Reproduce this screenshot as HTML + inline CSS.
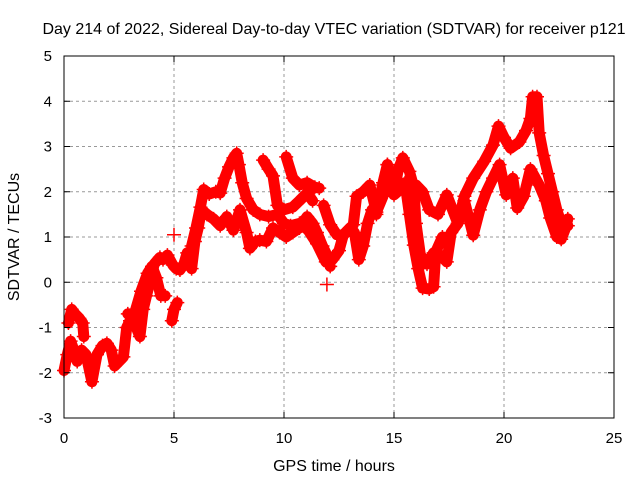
<!DOCTYPE html>
<html><head><meta charset="utf-8"><style>
html,body{margin:0;padding:0;background:#fff;}
svg{display:block;font-family:"Liberation Sans",sans-serif;}
</style></head><body>
<svg id="chart" width="640" height="480">
<text x="334" y="34" text-anchor="middle" font-size="16">Day 214 of 2022, Sidereal Day-to-day VTEC variation (SDTVAR) for receiver p121</text>
<text x="334" y="471" text-anchor="middle" font-size="16">GPS time / hours</text>
<text transform="translate(19,237) rotate(-90)" text-anchor="middle" font-size="16">SDTVAR / TECUs</text>
<g id="grid"></g>
<g id="marks"></g>
<rect x="64" y="56" width="550" height="362" fill="none" stroke="#000" stroke-width="1"/>
<g id="axes"></g>
</svg>
<script>
const xTicks=[0,5,10,15,20,25];
const yTicks=[-3,-2,-1,0,1,2,3,4,5];
const t1=[0,0.15,0.3,0.45,0.6,0.8,1.0,1.27,1.5,1.75,1.95,2.15,2.3,2.5,2.7,2.85,3.0,3.2,3.45,3.6,3.75,3.9,4.1,4.36,4.5,4.7,4.95,5.1,5.27,5.45,5.6,5.8,5.95,6.1,6.25,6.5,6.8,7.1,7.4,7.7,8.0,8.3,8.45,8.7,8.9,9.2,9.5,9.8,10.1,10.4,10.7,11.05,11.3,11.5,11.75,11.95,12.1];
const v1=[-1.95,-1.6,-1.3,-1.5,-1.75,-1.5,-1.6,-2.2,-1.6,-1.4,-1.35,-1.5,-1.85,-1.75,-1.65,-1.0,-0.85,-0.9,-1.2,-0.6,-0.3,0.0,0.4,0.55,0.5,0.6,0.38,0.3,0.27,0.4,0.65,0.3,0.9,1.2,1.6,1.5,1.4,1.25,1.45,1.15,1.6,1.1,0.75,0.9,0.93,0.9,1.2,1.1,1.0,1.1,1.2,1.45,1.3,1.1,0.8,0.6,0.35];
const t2=[5.8,6.0,6.2,6.35,6.6,6.9,7.1,7.3,7.5,7.7,7.85,7.95,8.1,8.3,8.6,8.9,9.3,9.7,10.0,10.3,10.7,11.1,11.5,11.9,12.2,12.5,12.7,13.0,13.2,13.4,13.6,13.8,14.0,14.2,14.5,14.7,15.0,15.2,15.4,15.7,15.9,16.0,16.2,16.5,16.8,17.1,17.4,17.6,17.9,18.2,18.6,19.1,19.5,19.75,20.0,20.3,20.7,21.0,21.2,21.3,21.5,21.6,21.8,22.0,22.2,22.4,22.6,22.8,22.9];
const v2=[0.8,1.2,1.66,2.05,1.95,2.0,1.97,2.3,2.55,2.75,2.85,2.6,2.2,1.85,1.6,1.5,1.45,1.5,1.3,1.25,1.3,1.15,0.85,0.45,0.5,0.7,1.05,1.2,1.1,0.5,0.8,1.3,1.6,1.5,2.2,2.6,2.0,2.5,2.75,2.45,2.1,1.3,0.6,0.4,0.65,0.6,0.45,1.1,1.3,1.9,2.3,2.67,3.03,3.45,3.2,2.96,3.1,3.35,3.62,4.1,4.1,3.3,2.8,2.4,2.0,1.6,1.3,1.35,1.25];
const t3=[9.05,9.3,9.5,9.7,10.0,10.4,10.7,11.05,11.3];
const v3=[2.7,2.5,2.35,1.7,1.6,1.66,1.8,1.97,1.8];
const t4=[10.1,10.4,10.7,11.05,11.4,11.6];
const v4=[2.77,2.3,2.15,2.2,2.1,2.08];
const t5=[11.8,12.1,12.4,12.7,13.15,13.3,13.6,13.9,14.2,14.5,14.7,15.0,15.4,15.7,16.0,16.3,16.6,17.0,17.4,17.9,18.2,18.6,18.9,19.2,19.5,19.8,20.1,20.4,20.6,20.9,21.2,21.6,21.9,22.1,22.4,22.6,22.8,22.9];
const v5=[1.7,1.27,1.05,1.04,1.27,1.9,2.0,2.15,1.55,1.9,2.6,1.93,2.1,1.9,2.15,2.0,1.6,1.5,1.93,1.3,1.8,1.04,1.6,2.0,2.3,2.6,1.93,2.3,1.64,1.9,2.5,2.15,1.8,1.42,1.0,0.95,1.2,1.4];
const t6=[15.5,15.7,15.9,16.1,16.3,16.6,16.8,16.9,17.2];
const v6=[2.2,1.5,0.82,0.3,-0.13,-0.15,-0.1,0.67,1.0];
const t7=[0.2,0.35,0.5,0.7,0.85,0.9];
const v7=[-0.9,-0.6,-0.7,-0.8,-0.9,-1.2];
const t8=[2.9,3.2,3.5,3.8,4.0,4.2,4.4,4.6];
const v8=[-0.7,-0.7,-0.2,0.2,0.35,0.1,-0.3,-0.3];
const t9=[4.9,5.0,5.15];
const v9=[-0.85,-0.6,-0.45];
const tIso=[5.0,11.95];
const vIso=[1.05,-0.05];

const NS='http://www.w3.org/2000/svg';
const X=t=>64+t*22;
const Y=v=>282.25-v*45.25;
const grid=document.getElementById('grid'),axes=document.getElementById('axes'),marks=document.getElementById('marks');
function mk(tag,attrs,parent){const e=document.createElementNS(NS,tag);for(const k in attrs)e.setAttribute(k,attrs[k]);parent.appendChild(e);return e;}
xTicks.forEach(t=>{
  const x=X(t);
  if(t>0&&t<25){const g=mk('line',{x1:x,x2:x,y1:56,y2:418,stroke:'#999','stroke-dasharray':'3,3'},grid);
  
  }
  mk('line',{x1:x,x2:x,y1:418,y2:412,stroke:'#000'},axes);
  mk('line',{x1:x,x2:x,y1:56,y2:62,stroke:'#000'},axes);
  const l=mk('text',{x:x,y:443,'text-anchor':'middle','font-size':15},axes);l.textContent=t;
  
  
});
yTicks.forEach(v=>{
  const y=Y(v);
  if(v>-3&&v<5){const g=mk('line',{x1:64,x2:614,y1:y,y2:y,stroke:'#999','stroke-dasharray':'3,3'},grid);
  
  }
  mk('line',{x1:64,x2:70,y1:y,y2:y,stroke:'#000'},axes);
  mk('line',{x1:614,x2:608,y1:y,y2:y,stroke:'#000'},axes);
  const l=mk('text',{x:52,y:y+5,'text-anchor':'end','font-size':15},axes);l.textContent=v;
  
  
});
const tracks=[[t1,v1],[t2,v2],[t3,v3],[t4,v4],[t5,v5],[t6,v6],[t7,v7],[t8,v8],[t9,v9]];
tracks.forEach(([ts,vs],i)=>{
  const d=ts.map((t,j)=>(j?'L':'M')+X(t).toFixed(1)+' '+Y(vs[j]).toFixed(1)).join(' ');
  const p=mk('path',{d:d,fill:'none',stroke:'#f00','stroke-width':11,'stroke-linejoin':'round','stroke-linecap':'round'},marks);
  
  
});
const allT=[].concat(...tracks.map(a=>a[0]),tIso),allV=[].concat(...tracks.map(a=>a[1]),vIso);
allT.forEach((t,j)=>{
  const x=X(t),y=Y(allV[j]);
  const m=mk('path',{d:`M${x-7} ${y}h14M${x} ${y-7}v14`,stroke:'#f00','stroke-width':1.5},marks);
  
  
});
</script>
</body></html>
